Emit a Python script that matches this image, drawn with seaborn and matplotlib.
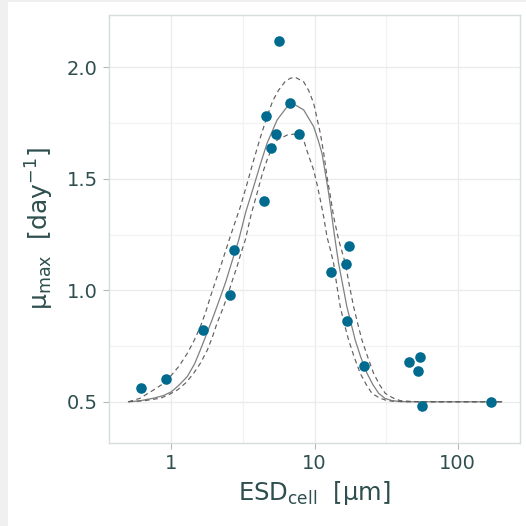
import numpy as np
import pandas as pd
import matplotlib
matplotlib.use("Agg")
import matplotlib.pyplot as plt
import seaborn as sns
from matplotlib.patches import Rectangle
from matplotlib.ticker import FixedLocator, FuncFormatter

# ---- observed data points ----
esd_obs = [0.61, 0.92, 1.66, 2.55, 2.75, 4.41, 4.60, 4.96, 5.40, 5.64, 6.73, 7.78,
           13.1, 17.3, 16.6, 16.7, 22.2, 45.3, 54.7, 52.9, 56.2, 170.0]
mu_obs = [0.56, 0.60, 0.82, 0.98, 1.18, 1.40, 1.78, 1.64, 1.70, 2.12, 1.84, 1.70,
          1.08, 1.20, 1.12, 0.86, 0.66, 0.68, 0.70, 0.64, 0.48, 0.50]

# ---- fitted curve ----
fit_x = [0.50, 0.60, 0.75, 0.88, 1.0, 1.13, 1.29, 1.45, 1.59, 1.75, 1.92, 2.20,
         2.40, 2.58, 2.95, 3.30, 3.75, 4.20, 4.65, 5.47, 6.42, 7.33, 8.38, 9.84,
         10.5, 11.26, 12.53, 13.8, 14.7, 15.7, 16.8, 19.2, 21.0, 23.2, 25.5,
         28.0, 31.0, 34.7, 40.0, 45.0, 203.0]
fit_y = [0.50, 0.504, 0.516, 0.528, 0.545, 0.575, 0.613, 0.670, 0.732, 0.800,
         0.867, 0.971, 1.040, 1.106, 1.226, 1.350, 1.465, 1.570, 1.659, 1.764,
         1.823, 1.831, 1.809, 1.734, 1.680, 1.614, 1.435, 1.240, 1.121, 1.025,
         0.926, 0.777, 0.700, 0.628, 0.577, 0.538, 0.515, 0.505, 0.501, 0.500,
         0.500]

# upper confidence band
up_x = [0.50, 0.60, 0.75, 0.87, 0.98, 1.13, 1.29, 1.44, 1.59, 1.73, 1.87, 2.03,
        2.20, 2.37, 2.55, 2.78, 3.03, 3.38, 3.75, 4.20, 4.65, 5.10, 5.61, 6.20,
        6.77, 7.33, 8.38, 9.10, 9.84, 10.96, 11.6, 12.2, 12.9, 13.57, 14.71,
        15.5, 16.38, 17.5, 18.72, 20.0, 21.4, 23.5, 25.8, 28.3, 31.1, 35.0,
        39.6, 46.0, 55.0, 203.0]
up_y = [0.50, 0.515, 0.553, 0.580, 0.613, 0.660, 0.717, 0.775, 0.837, 0.900,
        0.971, 1.040, 1.106, 1.170, 1.233, 1.305, 1.375, 1.480, 1.584, 1.690,
        1.779, 1.850, 1.898, 1.935, 1.951, 1.955, 1.935, 1.895, 1.839, 1.704,
        1.610, 1.509, 1.420, 1.330, 1.226, 1.175, 1.121, 1.020, 0.926, 0.850,
        0.777, 0.700, 0.628, 0.578, 0.538, 0.518, 0.505, 0.502, 0.500, 0.500]

# lower confidence band
lo_x = [0.50, 0.65, 0.84, 0.96, 1.10, 1.26, 1.43, 1.60, 1.78, 1.93, 2.08, 2.26,
        2.45, 2.65, 2.87, 3.07, 3.28, 3.60, 3.96, 4.30, 4.65, 5.00, 5.47, 6.42,
        7.33, 8.38, 8.90, 9.84, 10.4, 10.96, 11.6, 12.2, 12.9, 13.57, 14.3,
        15.1, 16.1, 17.27, 18.9, 20.8, 22.8, 25.1, 28.2, 32.0, 36.0, 42.0, 203.0]
lo_y = [0.50, 0.505, 0.516, 0.532, 0.553, 0.585, 0.628, 0.675, 0.732, 0.790,
        0.852, 0.910, 0.971, 1.040, 1.106, 1.170, 1.226, 1.340, 1.435, 1.520,
        1.584, 1.635, 1.674, 1.696, 1.701, 1.674, 1.620, 1.539, 1.475, 1.405,
        1.325, 1.240, 1.180, 1.121, 1.020, 0.926, 0.850, 0.777, 0.700, 0.628,
        0.580, 0.538, 0.518, 0.505, 0.502, 0.500, 0.500]

x_ticks = [1, 10, 100]
y_ticks = [0.5, 1.0, 1.5, 2.0]

sns.set_theme(style="whitegrid")
plt.rcParams["mathtext.default"] = "regular"
plt.rcParams["font.family"] = ["DejaVu Sans"]

text_col = "#2f4f4f"
grid_col = "#ebebeb"
spine_col = "#d6dddd"
pt_col = "#006b8f"

fig = plt.figure(figsize=(5.26, 5.26), dpi=100)
fig.patch.set_facecolor("#f0f0f0")
bg = Rectangle((8 / 526, 0), 1 - 8 / 526, 1 - 2 / 526,
               transform=fig.transFigure, facecolor="white",
               edgecolor="none", zorder=-10)
fig.patches.append(bg)
ax = fig.add_axes([109 / 526, 83 / 526, 411 / 526, 428 / 526])
ax.set_zorder(1)
ax.set_facecolor("white")

df_obs = pd.DataFrame({"esd": esd_obs, "mu": mu_obs})
df_fit = pd.DataFrame({"esd": fit_x, "mu": fit_y})
df_up = pd.DataFrame({"esd": up_x, "mu": up_y})
df_lo = pd.DataFrame({"esd": lo_x, "mu": lo_y})

ax.set_xscale("log")
sns.lineplot(data=df_fit, x="esd", y="mu", ax=ax, color="#808080", linewidth=0.9,
             sort=True, zorder=3)
for d in (df_up, df_lo):
    sns.lineplot(data=d, x="esd", y="mu", ax=ax, color="#606060", linewidth=0.85,
                 linestyle=(0, (4, 3)), sort=True, zorder=3)
sns.scatterplot(data=df_obs, x="esd", y="mu", ax=ax, color=pt_col, s=58,
                linewidth=0, zorder=4)

ax.set_xlim(0.366, 272)
ax.set_ylim(0.315, 2.2345)

ax.xaxis.set_major_locator(FixedLocator(x_ticks))
ax.xaxis.set_minor_locator(FixedLocator([10 ** -0.5, 10 ** 0.5, 10 ** 1.5]))
ax.xaxis.set_major_formatter(FuncFormatter(lambda v, p: f"{v:g}"))
ax.xaxis.set_minor_formatter(FuncFormatter(lambda v, p: ""))
ax.yaxis.set_major_locator(FixedLocator(y_ticks))
ax.yaxis.set_minor_locator(FixedLocator([0.75, 1.25, 1.75]))
ax.yaxis.set_major_formatter(FuncFormatter(lambda v, p: f"{v:.1f}"))

ax.grid(True, which="major", color=grid_col, linewidth=1.0)
ax.grid(True, which="minor", color="#f2f2f2", linewidth=0.9)
ax.set_axisbelow(True)

for s in ax.spines.values():
    s.set_color(spine_col)
    s.set_linewidth(1.0)

ax.tick_params(axis="both", which="major", direction="out", length=4, width=0.8,
               color="#b0b8b8", labelcolor=text_col, labelsize=14, pad=4,
               bottom=True, left=True)
ax.tick_params(axis="both", which="minor", length=0)

ax.set_xlabel("ESD$_{cell}$  [μm]", fontsize=17.5, color=text_col, labelpad=4)
ax.set_ylabel("μ$_{max}$  [day$^{-1}$]", fontsize=18, color=text_col, labelpad=8)

fig.savefig("out.png", dpi=100, facecolor=fig.get_facecolor())
